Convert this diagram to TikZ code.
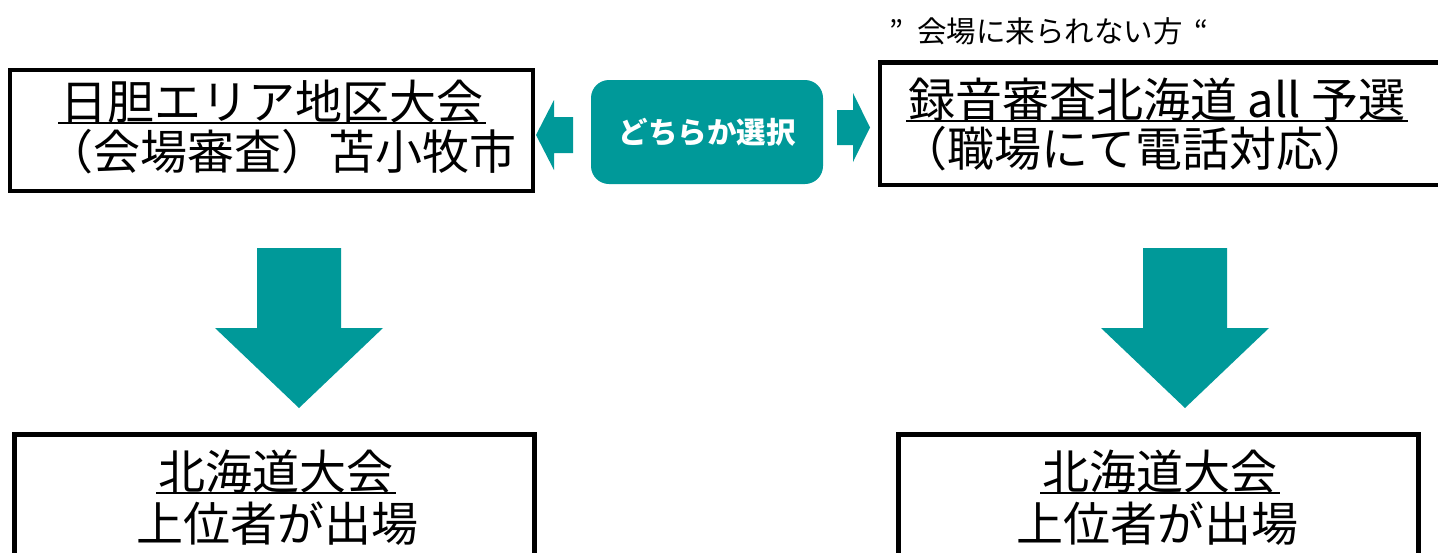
\documentclass[tikz,border=0pt]{standalone}
\usepackage{fontspec}
\newfontfamily\jp{Noto Sans CJK JP}
\definecolor{tealc}{RGB}{0,153,153}
\tikzset{
  frame/.style={draw=black, line width=4.5pt, fill=white, inner sep=0pt, outer sep=0pt},
  bigtext/.style={font=\jp\fontsize{47}{47}\selectfont, inner sep=0pt, anchor=base},
  smalltext/.style={font=\jp\fontsize{29.5}{29.5}\selectfont, inner sep=0pt, anchor=base west},
  uline/.style={line width=2.2pt, draw=black},
  tealshape/.style={fill=tealc, draw=none},
  choicebox/.style={fill=tealc, draw=none, rounded corners=18pt, minimum width=232pt, minimum height=104pt,
    text=white, font=\jp\bfseries\fontsize{29.5}{29.5}\selectfont, inner sep=0pt}
}
\begin{document}
\begin{tikzpicture}[x=1pt,y=-1pt]
\useasboundingbox (0,0) rectangle (1438,552);
\clip (0,0) rectangle (1438,552);
\fill[white] (0,0) rectangle (1438,552);

% top left box
\node[frame, minimum width=523pt, minimum height=121pt] (lbox) at (271.5,130.5) {};
\node[bigtext] (l1) at (272,119) {日胆エリア地区大会};
\node[bigtext] (l2) at (281,169) {（会場審査）苫小牧市};
\draw[uline] ([xshift=-2pt,yshift=-4pt]l1.base west) -- ([xshift=2pt,yshift=-4pt]l1.base east);

% top right box
\node[frame, minimum width=600pt, minimum height=122.5pt] (rbox) at (1180,123.5) {};
\node[bigtext] (r1) at (1157,117) {録音審査北海道 all 予選};
\node[bigtext] (r2) at (1135,166) {（職場にて電話対応）};
\draw[uline] ([xshift=-2pt,yshift=-4pt]r1.base west) -- ([xshift=2pt,yshift=-4pt]r1.base east);
\node[smalltext] (note) at (889,42) {”\hspace{14pt}会場に来られない方\hspace{12pt}“};

% choice box
\node[choicebox] (choice) at (707,132) {どちらか選択};

% side arrows
\fill[tealshape] (536,135) -- (554,100) -- (554,117) -- (573,117) -- (573,153) -- (554,153) -- (554,170) -- cycle;
\fill[tealshape] (870,127.5) -- (853,93) -- (853,110) -- (837,110) -- (837,145) -- (853,145) -- (853,162) -- cycle;

% down arrows
\fill[tealshape] (257,248) -- (341,248) -- (341,328) -- (383,328) -- (299,408) -- (215,328) -- (257,328) -- cycle;
\fill[tealshape] (1143,248) -- (1227,248) -- (1227,328) -- (1269,328) -- (1185,408) -- (1101,328) -- (1143,328) -- cycle;

% bottom boxes
\node[frame, minimum width=520pt, minimum height=170pt] (lbot) at (274.5,519.5) {};
\node[bigtext] (lb1) at (276,489) {北海道大会};
\node[bigtext] (lb2) at (277,541) {上位者が出場};
\draw[uline] ([xshift=-2pt,yshift=-4pt]lb1.base west) -- ([xshift=2pt,yshift=-4pt]lb1.base east);

\node[frame, minimum width=520pt, minimum height=170pt] (rbot) at (1158.5,519.5) {};
\node[bigtext] (rb1) at (1160,489) {北海道大会};
\node[bigtext] (rb2) at (1157,541) {上位者が出場};
\draw[uline] ([xshift=-2pt,yshift=-4pt]rb1.base west) -- ([xshift=2pt,yshift=-4pt]rb1.base east);
\end{tikzpicture}
\end{document}
